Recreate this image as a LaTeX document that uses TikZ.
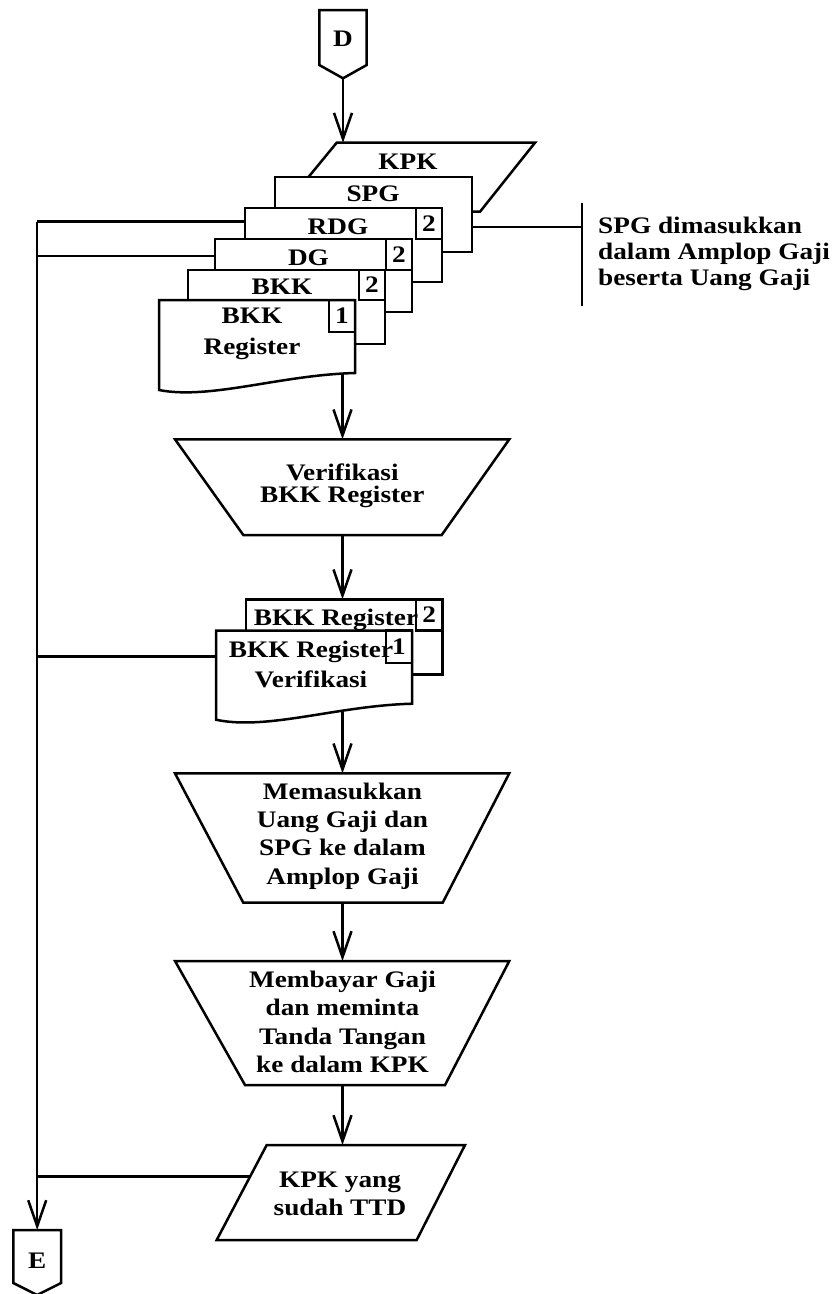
\documentclass[tikz,border=0pt]{standalone}
\usepackage{fontspec}
\setmainfont{Liberation Serif}[FakeStretch=1.15]
\usetikzlibrary{arrows.meta}
\tikzset{
  ln/.style={line width=2.5pt, line join=miter},
  thinln/.style={line width=1.8pt},
  shp/.style={ln, fill=white},
  flow/.style={ln, -{Straight Barb[length=26pt,width=18pt,line width=2.5pt]}},
  lbl/.style={font=\bfseries\fontsize{23.7}{#1}\selectfont, align=center, inner sep=0pt},
  lbl/.default=28,
}
\begin{document}
\begin{tikzpicture}[x=1pt, y=-1pt]
\useasboundingbox (0,0) rectangle (838,1294);
\fill[white] (0,0) rectangle (838,1294);

% off-page connector D
\draw[shp] (319.3,10) -- (366.7,10) -- (366.7,65) -- (343,78.3) -- (319.3,65) -- cycle;
\node[lbl] (D) at (343,38.3) {D};
\coordinate (D-out) at (343,78.3);

% stack of documents
\draw[shp] (336.7,142.7) -- (535,142.7) -- (480,211.7) -- (280,211.7) -- cycle;
\node[lbl] (kpk) at (408,162) {KPK};
\coordinate (kpk-in) at (343,142.7);

\draw[shp] (275,177) rectangle (472,252);
\node[lbl] (spg) at (373,193.3) {SPG};
\coordinate (spg-east) at (472,226.7);

\draw[shp] (245,208) rectangle (442,282);
\draw[ln] (416,208) rectangle (442,239);
\node[lbl] (rdg-n) at (429,223.5) {2};
\node[lbl] (rdg) at (338,227) {RDG};
\coordinate (rdg-west) at (245,221.7);

\draw[shp] (215,239) rectangle (412,312);
\draw[ln] (386,239) rectangle (412,270);
\node[lbl] (dg-n) at (399,254.5) {2};
\node[lbl] (dg) at (308.5,258) {DG};
\coordinate (dg-west) at (215,256);

\draw[shp] (188,270) rectangle (385,344);
\draw[ln] (359,270) rectangle (385,300);
\node[lbl] (bkk-n) at (372,285) {2};
\node[lbl] (bkk) at (282,287) {BKK};

\draw[shp] (159,300) -- (355,300) -- (355,373) .. controls (280,375) and (210,400) .. (159,390) -- cycle;
\draw[ln] (329,300) rectangle (355,332);
\node[lbl] (reg-n) at (342,316) {1};
\node[lbl=31] (reg) at (252,334) {BKK\\Register};
\coordinate (reg-out) at (342.5,373.7);

% note on the envelope
\draw[thinln] (spg-east) -- (582,226.7) coordinate (note-tick);
\draw[thinln] (582,203) -- (582,306);
\node[lbl=26, align=left, anchor=west] (note) at (598,254) {SPG dimasukkan\\dalam Amplop Gaji\\beserta Uang Gaji};

% verification
\draw[shp] (175,439.3) -- (509.3,439.3) -- (441.7,535) -- (243.3,535) -- cycle;
\node[lbl=22.5] (ver) at (342.3,486) {Verifikasi\\BKK Register};
\coordinate (ver-in) at (342.5,439.3);
\coordinate (ver-out) at (342.5,535);

% verified register copies
\draw[shp] (246,599.3) rectangle (442.7,674.3);
\draw[ln] (416,599.3) rectangle (442.7,630.7);
\node[lbl] (vreg2-n) at (429.3,615) {2};
\node[lbl] (vreg2) at (336,620) {BKK Register};
\coordinate (vreg-in) at (342.5,599.3);

\draw[shp] (216,630.7) -- (412,630.7) -- (412,703.7) .. controls (337,705.7) and (267,730.7) .. (216,719.7) -- cycle;
\draw[ln] (386,630.7) rectangle (412,663);
\node[lbl] (vreg1-n) at (399,647) {1};
\node[lbl=30] (vreg1) at (311,664) {BKK Register\\Verifikasi};
\coordinate (vreg-west) at (216,656.7);
\coordinate (vreg-out) at (342.5,711);

% insert pay into envelopes
\draw[shp] (175,773.3) -- (509.3,773.3) -- (442.7,902.7) -- (243.3,902.7) -- cycle;
\node[lbl=28.3] (amplop) at (342.5,836) {Memasukkan\\Uang Gaji dan\\SPG ke dalam\\Amplop Gaji};
\coordinate (amplop-in) at (342.5,773.3);
\coordinate (amplop-out) at (342.5,902.7);

% pay and sign
\draw[shp] (175,961) -- (509.3,961) -- (445,1085) -- (245,1085) -- cycle;
\node[lbl=28.5] (bayar) at (342.5,1022) {Membayar Gaji\\dan meminta\\Tanda Tangan\\ke dalam KPK};
\coordinate (bayar-in) at (342.5,961);
\coordinate (bayar-out) at (342.5,1085);

% signed KPK
\draw[shp] (266.7,1145) -- (465,1145) -- (416.7,1240) -- (216.7,1240) -- cycle;
\node[lbl=28.3] (ttd) at (340,1194) {KPK yang\\sudah TTD};
\coordinate (ttd-in) at (342.5,1145);
\coordinate (ttd-west) at (250,1176.7);

% off-page connector E
\draw[shp] (13.3,1230) -- (61,1230) -- (61,1283) -- (37.2,1295) -- (13.3,1283) -- cycle;
\node[lbl] (E) at (37.2,1261) {E};
\coordinate (E-in) at (37.2,1230);

% main flow
\draw[flow] (D-out) -- (kpk-in);
\draw[flow] (reg-out) -- (ver-in);
\draw[flow] (ver-out) -- (vreg-in);
\draw[flow] (vreg-out) -- (amplop-in);
\draw[flow] (amplop-out) -- (bayar-in);
\draw[flow] (bayar-out) -- (ttd-in);

% filing line on the left
\coordinate (bus-top) at (37.2,221.7);
\draw[ln] (rdg-west) -- (bus-top);
\draw[ln] (dg-west) -- (dg-west -| bus-top);
\draw[ln] (vreg-west) -- (vreg-west -| bus-top);
\draw[ln] (ttd-west) -- (ttd-west -| bus-top);
\draw[flow] (bus-top) -- (E-in);
\end{tikzpicture}
\end{document}
